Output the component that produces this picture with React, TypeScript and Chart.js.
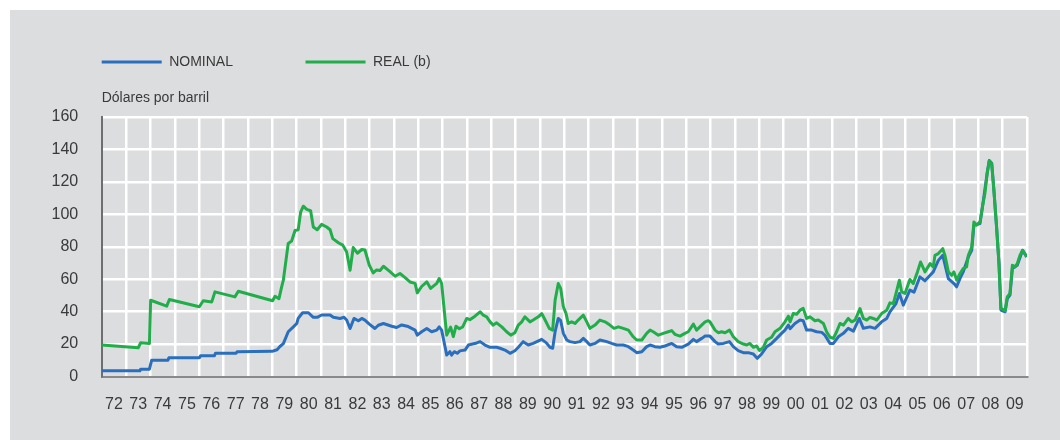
import React, { useEffect, useRef } from 'react';
import { Chart, registerables } from 'chart.js';

Chart.register(...registerables);

const xTickLabels = ['72','73','74','75','76','77','78','79','80','81','82','83','84','85','86','87','88','89','90','91','92','93','94','95','96','97','98','99','00','01','02','03','04','05','06','07','08','09'];
const firstYear = 1972;
const yTicks = [0, 20, 40, 60, 80, 100, 120, 140, 160];
const seriesLabels = ['NOMINAL', 'REAL (b)'];
const unitLabel = 'Dólares por barril';

const nominalYears = [
  1972.0, 1973.57, 1973.6, 1973.96, 1974.05, 1974.72, 1974.76, 1976.02, 1976.06, 1976.63, 1976.67, 1977.52, 1977.56,
  1979.0, 1979.2, 1979.32, 1979.46, 1979.66, 1979.87, 1980.01, 1980.07, 1980.25, 1980.49, 1980.69, 1980.85,
  1981.03, 1981.38, 1981.51, 1981.79, 1981.95, 1982.06, 1982.2, 1982.36, 1982.54, 1982.68, 1982.81, 1982.99,
  1983.22, 1983.36, 1983.57, 1983.91, 1984.11, 1984.32, 1984.59, 1984.87, 1984.96, 1985.14, 1985.35, 1985.55,
  1985.76, 1985.86, 1985.96, 1986.1, 1986.17, 1986.3, 1986.37, 1986.48, 1986.6, 1986.71, 1986.92, 1987.06,
  1987.4, 1987.54, 1987.74, 1987.95, 1988.22, 1988.36, 1988.56, 1988.77, 1988.97, 1989.11, 1989.31, 1989.52,
  1989.72, 1990.07, 1990.25, 1990.41, 1990.52, 1990.62, 1990.75, 1990.85, 1990.96, 1991.1, 1991.23, 1991.44,
  1991.64, 1991.78, 1991.92, 1992.05, 1992.26, 1992.46, 1992.74, 1992.94, 1993.15, 1993.42, 1993.63, 1993.83,
  1993.97, 1994.18, 1994.38, 1994.52, 1994.72, 1994.93, 1995.13, 1995.41, 1995.61, 1995.82, 1996.09, 1996.3,
  1996.43, 1996.64, 1996.78, 1996.98, 1997.19, 1997.32, 1997.53, 1997.78, 1997.94, 1998.14, 1998.35, 1998.55,
  1998.76, 1998.92, 1999.1, 1999.31, 1999.51, 1999.72, 1999.92, 2000.06, 2000.2, 2000.27, 2000.47, 2000.68,
  2000.81, 2000.95, 2001.16, 2001.36, 2001.57, 2001.7, 2001.91, 2002.05, 2002.25, 2002.46, 2002.66, 2002.87,
  2003.11, 2003.28, 2003.55, 2003.76, 2004.03, 2004.24, 2004.37, 2004.62, 2004.76, 2004.92, 2005.19, 2005.36,
  2005.6, 2005.81, 2006.02, 2006.15, 2006.36, 2006.54, 2006.77, 2007.0, 2007.11, 2007.25, 2007.38, 2007.59,
  2007.73, 2007.82, 2008.07, 2008.18, 2008.37, 2008.45, 2008.55, 2008.64, 2008.75, 2008.85, 2008.93, 2009.1,
  2009.19, 2009.3, 2009.4, 2009.6, 2009.82, 2009.99,
];
const nominalValues = [
  3.5, 3.5, 4.5, 4.5, 10, 10, 11.6, 11.6, 12.8, 12.8, 14.3, 14.3, 15.3,
  15.5, 16.5, 18.5, 20.3, 27.6, 30.6, 32.7, 35.8, 39.3, 39.3, 36.5, 36.5,
  37.9, 37.9, 36.5, 35.8, 36.5, 34.8, 29.6, 35.8, 34.4, 35.8, 34.8, 32.3,
  29.6, 31.6, 32.7, 31, 30.2, 31.8, 30.8, 28.6, 25.5, 27.6, 29.6, 27.6,
  28.6, 30.6, 28.6, 18.3, 13.2, 15.3, 13.2, 15.3, 14.3, 15.8, 16.3, 19.4,
  20.7, 21.5, 19.4, 18, 18, 17.4, 16.3, 14.3, 15.9, 18, 21.5, 19.4,
  20.4, 22.9, 20.9, 18, 17.4, 27.6, 35.8, 34.4, 26.6, 22.5, 21.5, 20.9,
  21.5, 23.5, 21.5, 19.4, 20.4, 22.5, 21.5, 20.4, 19.4, 19.4, 18.4, 16.3,
  14.7, 15.3, 18.4, 19.4, 18.4, 18, 18.8, 20.4, 18.4, 18, 20, 22.9,
  21.5, 23.5, 24.9, 24.9, 21.5, 20, 20.4, 21.5, 18.4, 16, 14.7, 14.7,
  13.9, 11.2, 13.9, 18.4, 20.4, 23.5, 26.6, 28.6, 31.7, 29.5, 32.7, 34.8,
  34.4, 28.6, 28.6, 27.6, 27.2, 25.5, 20.4, 20.4, 24.5, 26.6, 29.7, 28,
  35.8, 29.7, 30.6, 29.7, 33.7, 35.8, 39.9, 45, 51.2, 44, 53.3, 52,
  61.4, 59, 62.4, 64.5, 71.6, 74.7, 60.4, 57.3, 55.3, 60.5, 64.5, 73.7,
  77.8, 93.3, 94.3, 105.5, 126, 133.2, 131.5, 115, 92.2, 69.6, 41, 39.9,
  48, 50.2, 66.6, 68.6, 77.8, 73.7,
];

const realYears = [
  1972.0, 1973.5, 1973.6, 1973.96, 1974.01, 1974.67, 1974.78, 1976.01, 1976.17, 1976.52, 1976.65, 1977.47, 1977.61,
  1979.02, 1979.12, 1979.28, 1979.39, 1979.46, 1979.66, 1979.8, 1979.94, 1980.07, 1980.17, 1980.28, 1980.42,
  1980.58, 1980.69, 1980.85, 1981.03, 1981.24, 1981.38, 1981.49, 1981.72, 1981.9, 1982.06, 1982.2, 1982.33,
  1982.5, 1982.68, 1982.81, 1982.99, 1983.15, 1983.29, 1983.43, 1983.57, 1983.84, 1984.05, 1984.25, 1984.46,
  1984.66, 1984.87, 1984.96, 1985.14, 1985.35, 1985.51, 1985.76, 1985.86, 1985.96, 1986.1, 1986.17, 1986.33,
  1986.44, 1986.55, 1986.69, 1986.82, 1986.99, 1987.12, 1987.33, 1987.54, 1987.67, 1987.81, 1987.95, 1988.08,
  1988.22, 1988.43, 1988.63, 1988.8, 1988.97, 1989.11, 1989.25, 1989.38, 1989.59, 1989.72, 1989.93, 1990.07,
  1990.21, 1990.38, 1990.52, 1990.62, 1990.75, 1990.85, 1990.96, 1991.07, 1991.16, 1991.3, 1991.44, 1991.57,
  1991.78, 1991.92, 1992.05, 1992.26, 1992.46, 1992.67, 1992.87, 1993.04, 1993.22, 1993.42, 1993.63, 1993.83,
  1993.97, 1994.18, 1994.38, 1994.52, 1994.65, 1994.86, 1995.06, 1995.27, 1995.41, 1995.54, 1995.75, 1995.95,
  1996.09, 1996.3, 1996.43, 1996.64, 1996.78, 1996.91, 1996.98, 1997.19, 1997.32, 1997.46, 1997.6, 1997.78,
  1997.94, 1998.14, 1998.35, 1998.49, 1998.62, 1998.76, 1998.9, 1999.01, 1999.17, 1999.31, 1999.51, 1999.65,
  1999.86, 2000.06, 2000.2, 2000.27, 2000.4, 2000.54, 2000.68, 2000.81, 2000.95, 2001.09, 2001.29, 2001.43,
  2001.64, 2001.77, 2001.91, 2002.05, 2002.18, 2002.32, 2002.46, 2002.66, 2002.8, 2002.94, 2003.14, 2003.28,
  2003.42, 2003.55, 2003.69, 2003.83, 2004.03, 2004.24, 2004.37, 2004.51, 2004.62, 2004.76, 2004.85, 2004.99,
  2005.19, 2005.33, 2005.5, 2005.63, 2005.81, 2006.02, 2006.15, 2006.22, 2006.36, 2006.54, 2006.63, 2006.77,
  2006.91, 2007.0, 2007.11, 2007.25, 2007.38, 2007.52, 2007.59, 2007.73, 2007.82, 2007.93, 2008.07, 2008.18,
  2008.27, 2008.37, 2008.45, 2008.55, 2008.64, 2008.75, 2008.85, 2008.93, 2009.1, 2009.19, 2009.3, 2009.4,
  2009.51, 2009.6, 2009.71, 2009.82, 2009.99,
];
const realValues = [
  19.4, 17.7, 20.8, 20.4, 47, 43.4, 47.5, 43, 46.7, 46, 52.2, 49.1, 52.6,
  46.7, 49.5, 48, 55.3, 59.4, 82, 83.5, 90, 90.4, 101.4, 105, 103,
  102.2, 92.2, 90.5, 93.8, 92.2, 90.5, 85, 82.5, 81, 76.8, 65.5, 79.5,
  76, 78.3, 78, 68.6, 63.9, 65.7, 65.3, 68, 64.7, 61.8, 63.5, 61,
  58.3, 57.4, 51.6, 55.5, 58.4, 54.3, 57.4, 60.4, 57.4, 35.8, 25.5, 30.5,
  24.6, 31, 29.5, 30.5, 35.8, 35, 37.2, 39.9, 37.8, 36.8, 33.7, 31.7,
  33.1, 30.6, 27.6, 25.5, 27, 31.7, 33.7, 36.8, 33.7, 34.8, 36.8, 38.8,
  34.8, 29.7, 28.6, 47, 57.3, 54.3, 43, 38.8, 32.7, 33.7, 32.7, 34.8,
  37.8, 33.7, 29.7, 31.7, 34.8, 33.7, 31.7, 29.7, 30.6, 29.7, 28.6, 24.5,
  22.5, 22.5, 26.6, 28.6, 27.6, 25.5, 26.6, 27.6, 28.3, 26, 24.9, 26.6,
  27.6, 32.3, 28.6, 31.7, 33.7, 34.4, 33.7, 28.6, 27, 27.6, 27, 28.6,
  24.5, 21.5, 20, 19.4, 20.4, 18, 18.8, 16, 18, 22.5, 24.2, 27.6,
  29.7, 33.7, 37.2, 33.7, 38.8, 38.4, 40.9, 42, 35.8, 36.8, 34.4, 34.8,
  32.7, 27.6, 24.2, 23.5, 27.6, 32.7, 31.7, 35.8, 33.7, 34.8, 41.9, 35.8,
  34.8, 36.4, 35.8, 34.8, 38.8, 40.9, 45.4, 45, 51.2, 59.4, 52.2, 51.2,
  59.8, 57.3, 64.5, 70.6, 64.5, 69.6, 67.6, 74.7, 75.8, 78.8, 74.7, 64.5,
  62.4, 64.5, 59.4, 63.5, 66.6, 67.6, 74.7, 79.8, 95.3, 93.3, 95.3, 105.5,
  112.7, 126, 132.8, 131.2, 114.8, 92.2, 69.6, 42, 40.5, 49.1, 51.2, 68.6,
  67.6, 69.6, 74.7, 77.8, 73.7,
];

const FONT = '"Liberation Sans", Arial, Helvetica, sans-serif';
const TEXT_COLOR = '#3a3a3a';
const BLUE = '#2a6fbd';
const GREEN = '#22ad4b';

const panelPlugin = {
  id: 'panelAndLegend',
  beforeDraw(chart: any) {
    const { ctx, width, height } = chart;
    ctx.save();
    ctx.fillStyle = '#ffffff';
    ctx.fillRect(0, 0, width, height);
    ctx.fillStyle = '#dcdddf';
    ctx.fillRect(10, 10, width - 10, height - 10);
    ctx.restore();
  },
  afterDraw(chart: any) {
    const { ctx } = chart;
    const left = chart.chartArea.left;
    const starts = [left, left + 203.8];
    ctx.save();
    chart.data.datasets.forEach((ds: any, i: number) => {
      const x0 = starts[i];
      ctx.strokeStyle = ds.borderColor;
      ctx.lineWidth = 3;
      ctx.beginPath();
      ctx.moveTo(x0, 62);
      ctx.lineTo(x0 + 60, 62);
      ctx.stroke();
      ctx.fillStyle = TEXT_COLOR;
      ctx.font = `14px ${FONT}`;
      ctx.textAlign = 'left';
      ctx.textBaseline = 'middle';
      ctx.fillText(ds.label, x0 + 67.5, 62.5);
    });
    ctx.fillStyle = TEXT_COLOR;
    ctx.font = `14px ${FONT}`;
    ctx.textAlign = 'left';
    ctx.textBaseline = 'middle';
    ctx.fillText(unitLabel, left, 98);
    ctx.restore();
  },
};

export default function App() {
  const canvasRef = useRef<HTMLCanvasElement | null>(null);

  useEffect(() => {
    if (!canvasRef.current) return;
    const nominalData = nominalYears.map((x, i) => ({ x, y: nominalValues[i] }));
    const realData = realYears.map((x, i) => ({ x, y: realValues[i] }));
    const chart = new Chart(canvasRef.current, {
      type: 'line',
      data: {
        datasets: [
          {
            label: seriesLabels[0],
            data: nominalData,
            borderColor: BLUE,
            backgroundColor: BLUE,
            borderWidth: 3,
            pointRadius: 0,
            tension: 0,
            borderJoinStyle: 'round',
            order: 1,
          },
          {
            label: seriesLabels[1],
            data: realData,
            borderColor: GREEN,
            backgroundColor: GREEN,
            borderWidth: 3,
            pointRadius: 0,
            tension: 0,
            borderJoinStyle: 'round',
            order: 0,
          },
        ],
      },
      options: {
        responsive: false,
        animation: false,
        devicePixelRatio: 1,
        parsing: false,
        normalized: true,
        layout: { padding: { top: 117, right: 33, bottom: 0, left: 0 } },
        plugins: {
          legend: { display: false },
          tooltip: { enabled: false },
          title: { display: false },
        },
        scales: {
          x: {
            type: 'linear',
            min: firstYear,
            max: firstYear + xTickLabels.length,
            afterBuildTicks: (scale: any) => {
              const ticks = [];
              for (let i = 0; i <= xTickLabels.length; i++) ticks.push({ value: firstYear + i });
              scale.ticks = ticks;
            },
            afterFit: (scale: any) => {
              scale.height = 63.5;
            },
            ticks: {
              autoSkip: false,
              maxRotation: 0,
              minRotation: 0,
              padding: 18,
              labelOffset: 12.2,
              color: TEXT_COLOR,
              font: { family: FONT, size: 16 },
              callback: (_v: any, index: number) => xTickLabels[index] ?? '',
            },
            grid: {
              color: (c: any) => (c.tick && c.tick.value === firstYear ? 'rgba(0,0,0,0)' : '#ffffff'),
              lineWidth: 2.5,
              drawTicks: false,
              tickLength: 0,
            },
            border: { display: true, color: '#8a8a8a', width: 2 },
          },
          y: {
            type: 'linear',
            min: yTicks[0],
            max: yTicks[yTicks.length - 1],
            afterBuildTicks: (scale: any) => {
              scale.ticks = yTicks.map((value) => ({ value }));
            },
            afterFit: (scale: any) => {
              scale.width = 101.7;
            },
            ticks: {
              padding: 23.5,
              color: TEXT_COLOR,
              font: { family: FONT, size: 16 },
              callback: (v: any) => String(v),
            },
            grid: {
              color: (c: any) => (c.tick && c.tick.value === 0 ? 'rgba(0,0,0,0)' : '#ffffff'),
              lineWidth: 2.5,
              drawTicks: false,
              tickLength: 0,
            },
            border: { display: true, color: '#6e6e6e', width: 2 },
          },
        },
      },
      plugins: [panelPlugin],
    } as any);
    return () => chart.destroy();
  }, []);

  return (
    <div style={{ position: 'absolute', left: 0, top: 0, width: 1060, height: 440 }}>
      <canvas ref={canvasRef} width={1060} height={440} style={{ display: 'block' }} />
    </div>
  );
}
